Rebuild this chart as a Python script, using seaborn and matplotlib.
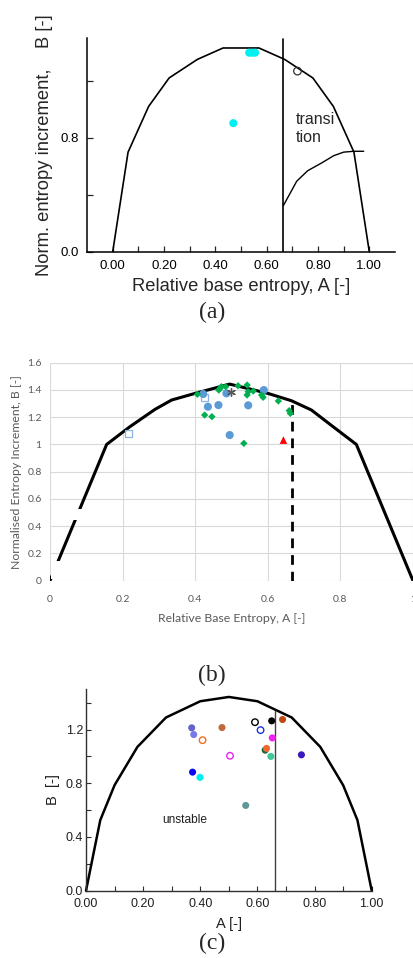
import matplotlib
matplotlib.use("Agg")
import matplotlib.pyplot as plt
import seaborn as sns
from matplotlib.ticker import FixedLocator
from matplotlib.patches import Rectangle

# ---- panel (a) ----
a_curve_x = [0.00, 0.06, 0.14, 0.22, 0.33, 0.43, 0.57, 0.67, 0.78, 0.86, 0.94, 1.00]
a_curve_y = [0.00, 0.70, 1.02, 1.22, 1.35, 1.43, 1.43, 1.35, 1.22, 1.02, 0.70, 0.00]
a_trans_x = [0.665, 0.717, 0.76, 0.815, 0.861, 0.90, 0.939, 0.978]
a_trans_y = [0.325, 0.496, 0.57, 0.625, 0.675, 0.70, 0.706, 0.706]
a_filled_x = [0.532, 0.543, 0.555, 0.47]
a_filled_y = [1.397, 1.397, 1.397, 0.903]
a_open_x = [0.72]
a_open_y = [1.268]
a_split = 0.665

# ---- panel (b) ----
b_curve_x = [0.0, 0.156, 0.22, 0.289, 0.335, 0.40, 0.495, 0.60, 0.665, 0.72, 0.78, 0.844, 1.0]
b_curve_y = [0.0, 1.0, 1.13, 1.257, 1.326, 1.375, 1.443, 1.375, 1.321, 1.253, 1.13, 1.0, 0.0]
b_circle_x = [0.422, 0.435, 0.464, 0.486, 0.495, 0.546, 0.589]
b_circle_y = [1.370, 1.277, 1.289, 1.375, 1.069, 1.287, 1.399]
b_square_x = [0.215, 0.426]
b_square_y = [1.081, 1.346]
b_diamond_x = [0.406, 0.426, 0.446, 0.465, 0.468, 0.472, 0.484, 0.518, 0.543, 0.546,
               0.543, 0.560, 0.583, 0.587, 0.629, 0.659, 0.662, 0.534]
b_diamond_y = [1.368, 1.216, 1.204, 1.399, 1.410, 1.424, 1.424, 1.431, 1.436, 1.387,
               1.363, 1.392, 1.363, 1.346, 1.319, 1.248, 1.228, 1.008]
b_triangle_x = [0.643]
b_triangle_y = [1.032]
b_star_x = [0.498]
b_star_y = [1.382]
b_split = 0.667
b_split_top = 1.321

# ---- panel (c) ----
c_curve_x = [0.0, 0.05, 0.10, 0.18, 0.28, 0.40, 0.50, 0.60, 0.72, 0.82, 0.90, 0.95, 1.0]
c_curve_y = [0.0, 0.526, 0.786, 1.071, 1.29, 1.411, 1.443, 1.411, 1.29, 1.071, 0.786, 0.526, 0.0]
c_filled_x = [0.370, 0.377, 0.476, 0.650, 0.688, 0.652, 0.627, 0.632, 0.647, 0.754, 0.373, 0.399, 0.559]
c_filled_y = [1.213, 1.163, 1.215, 1.265, 1.275, 1.138, 1.047, 1.060, 1.000, 1.012, 0.883, 0.844, 0.635]
c_filled_colors = ["#6464C8", "#7878E6", "#C0693A", "#000000", "#C04A10", "#F020F0", "#1A6A3A",
                   "#F06A30", "#40C898", "#3A1ABF", "#0A0AF0", "#00F0F0", "#609898"]
c_open_x = [0.408, 0.5915, 0.611, 0.504]
c_open_y = [1.121, 1.255, 1.196, 1.005]
c_open_colors = ["#F07020", "#000000", "#2030E0", "#F020F0"]
c_split = 0.663
c_split_top = 1.34

SANS = ["Liberation Sans", "DejaVu Sans"]
NARROW = ["Liberation Sans Narrow", "Liberation Sans", "DejaVu Sans"]
CALIBRI_LIKE = ["Lato", "DejaVu Sans"]
SERIF = ["Liberation Serif", "DejaVu Serif"]

sns.set_style("ticks")
plt.rcParams["font.family"] = SANS

W, H = 414, 958
fig = plt.figure(figsize=(W / 100, H / 100), dpi=100)


def px_axes(left, top, right, bottom):
    return fig.add_axes([left / W, 1 - bottom / H, (right - left) / W, (bottom - top) / H])


def hollow(ax, edge_colors, lw=1.0):
    coll = ax.collections[-1]
    coll.set_facecolor("none")
    coll.set_edgecolor(edge_colors)
    coll.set_linewidth(lw)


def style_ticks(ax, family, size, color="black"):
    for lab in ax.get_xticklabels() + ax.get_yticklabels():
        lab.set_fontfamily(family)
        lab.set_fontsize(size)
        lab.set_color(color)


# ================= (a) =================
ax = px_axes(87, 38, 395, 252)
sns.lineplot(x=a_curve_x, y=a_curve_y, sort=False, estimator=None, color="black", lw=1.2, ax=ax)
sns.lineplot(x=a_trans_x, y=a_trans_y, sort=False, estimator=None, color="black", lw=1.0, ax=ax)
ax.axvline(a_split, ymin=0, ymax=1.49 / 1.5, color="black", lw=1.2)
sns.scatterplot(x=a_filled_x, y=a_filled_y, color="#00F0F0", edgecolor="none", s=34, ax=ax, zorder=3)
sns.scatterplot(x=a_open_x, y=a_open_y, color="black", s=30, ax=ax, zorder=3)
hollow(ax, "#303030", 0.9)
ax.text(0.715, 0.926, "transi", fontsize=11.5, va="center", ha="left")
ax.text(0.715, 0.80, "tion", fontsize=11.5, va="center", ha="left")
ax.set_xlim(-0.1, 1.1)
ax.set_ylim(0, 1.5)
ax.xaxis.set_major_locator(FixedLocator([0, 0.2, 0.4, 0.6, 0.8, 1.0]))
ax.xaxis.set_minor_locator(FixedLocator([0.1, 0.3, 0.5, 0.7, 0.9]))
ax.set_xticklabels(["0.00", "0.20", "0.40", "0.60", "0.80", "1.00"])
ax.set_yticks([0, 0.4, 0.8, 1.2])
ax.set_yticklabels(["0.0", "", "0.8", ""])
ax.tick_params(which="both", direction="in", length=4, width=0.9, pad=6)
sns.despine(ax=ax)
for sp in ["left", "bottom"]:
    ax.spines[sp].set_linewidth(1.1)
    ax.spines[sp].set_color("black")
style_ticks(ax, SANS, 9.5)
ax.set_xlabel("Relative base entropy, A [-]", fontsize=13.2, labelpad=4)
ax.set_ylabel("Norm. entropy increment,    B [-]", fontsize=13.2, labelpad=5)
fig.text(212 / W, 1 - 312 / H, "(a)", fontsize=17, family=SERIF, ha="center", va="center")

# ================= (b) =================
ax = px_axes(50, 362.7, 413, 580.7)
ax.grid(True, color="#D9D9D9", lw=0.8)
ax.set_axisbelow(True)
sns.lineplot(x=b_curve_x, y=b_curve_y, sort=False, estimator=None, color="black", lw=2.2, ax=ax)
ax.plot([b_split, b_split], [0, b_split_top], color="black", lw=2.0, ls=(0, (3.5, 2.5)))
sns.scatterplot(x=b_square_x, y=b_square_y, marker="s", color="#8EB4E3", s=26, ax=ax, zorder=3)
hollow(ax, "#8EB4E3", 0.9)
sns.scatterplot(x=b_circle_x, y=b_circle_y, marker="o", color="#5B9BD5", edgecolor="none", s=34, ax=ax, zorder=3)
sns.scatterplot(x=b_diamond_x, y=b_diamond_y, marker="D", color="#00B050", edgecolor="none", s=14, ax=ax, zorder=4)
sns.scatterplot(x=b_triangle_x, y=b_triangle_y, marker="^", color="#FF0000", edgecolor="none", s=30, ax=ax, zorder=4)
sns.scatterplot(x=b_star_x, y=b_star_y, marker=(6, 2, 0), color="#595959", s=30, linewidth=1.0, ax=ax, zorder=5)
# white patches pasted over the left branch in the source figure
ax.add_patch(Rectangle((0.004, 0.012), 0.03, 0.13, color="white", zorder=6, lw=0))
ax.add_patch(Rectangle((0.06, 0.447), 0.04, 0.078, color="white", zorder=6, lw=0))
ax.set_xlim(0, 1)
ax.set_ylim(0, 1.6)
ax.set_xticks([0, 0.2, 0.4, 0.6, 0.8, 1.0])
ax.set_xticklabels(["0", "0.2", "0.4", "0.6", "0.8", "1"])
ax.set_yticks([0, 0.2, 0.4, 0.6, 0.8, 1.0, 1.2, 1.4, 1.6])
ax.set_yticklabels(["0", "0.2", "0.4", "0.6", "0.8", "1", "1.2", "1.4", "1.6"])
ax.tick_params(axis="x", length=0, pad=10)
ax.tick_params(axis="y", length=0, pad=6)
for sp in ax.spines.values():
    sp.set_visible(False)
style_ticks(ax, CALIBRI_LIKE, 7.5, "#595959")
ax.set_xlabel("Relative Base Entropy, A [-]", fontsize=8.8, family=CALIBRI_LIKE, color="#595959", labelpad=7)
ax.set_ylabel("Normalised Entropy Increment, B [-]", fontsize=8.8, family=CALIBRI_LIKE, color="#595959", labelpad=4)
fig.text(212 / W, 1 - 675 / H, "(b)", fontsize=17, family=SERIF, ha="center", va="center")

# ================= (c) =================
ax = px_axes(86, 689.3, 371.7, 890.7)
sns.lineplot(x=c_curve_x, y=c_curve_y, sort=False, estimator=None, color="black", lw=1.8, ax=ax)
ax.lines[-1].set_clip_on(False)
ax.plot([c_split, c_split], [0, c_split_top], color="#404040", lw=1.0)
ids = [f"f{i}" for i in range(len(c_filled_x))]
sns.scatterplot(x=c_filled_x, y=c_filled_y, hue=ids, palette=dict(zip(ids, c_filled_colors)),
                edgecolor="none", s=26, legend=False, ax=ax, zorder=3)
ids = [f"o{i}" for i in range(len(c_open_x))]
sns.scatterplot(x=c_open_x, y=c_open_y, hue=ids, palette=dict(zip(ids, c_open_colors)),
                s=22, legend=False, ax=ax, zorder=3)
hollow(ax, c_open_colors, 1.0)
ax.text(0.347, 0.526, "unstable", fontsize=8.6, ha="center", va="center", color="#202020")
ax.set_xlim(0, 1)
ax.set_ylim(0, 1.5)
ax.xaxis.set_major_locator(FixedLocator([0, 0.2, 0.4, 0.6, 0.8, 1.0]))
ax.xaxis.set_minor_locator(FixedLocator([0.1, 0.3, 0.5, 0.7, 0.9]))
ax.set_xticklabels(["0.00", "0.20", "0.40", "0.60", "0.80", "1.00"])
ax.yaxis.set_major_locator(FixedLocator([0, 0.4, 0.8, 1.2]))
ax.yaxis.set_minor_locator(FixedLocator([0.2, 0.6, 1.0, 1.4]))
ax.set_yticklabels(["0.0", "0.4", "0.8", "1.2"])
ax.tick_params(which="both", direction="in", length=3.5, width=0.8, colors="#303030")
ax.tick_params(axis="x", pad=5)
ax.tick_params(axis="y", pad=2)
sns.despine(ax=ax)
for sp in ["left", "bottom"]:
    ax.spines[sp].set_linewidth(1.0)
    ax.spines[sp].set_color("#303030")
style_ticks(ax, NARROW, 9, "#202020")
ax.set_xlabel("A [-]", fontsize=10.5, labelpad=5, color="#202020")
ax.set_ylabel("B  [-]", fontsize=10.5, labelpad=4, color="#202020")
fig.text(212 / W, 1 - 943 / H, "(c)", fontsize=17, family=SERIF, ha="center", va="center")

fig.savefig("out.png", dpi=100)
